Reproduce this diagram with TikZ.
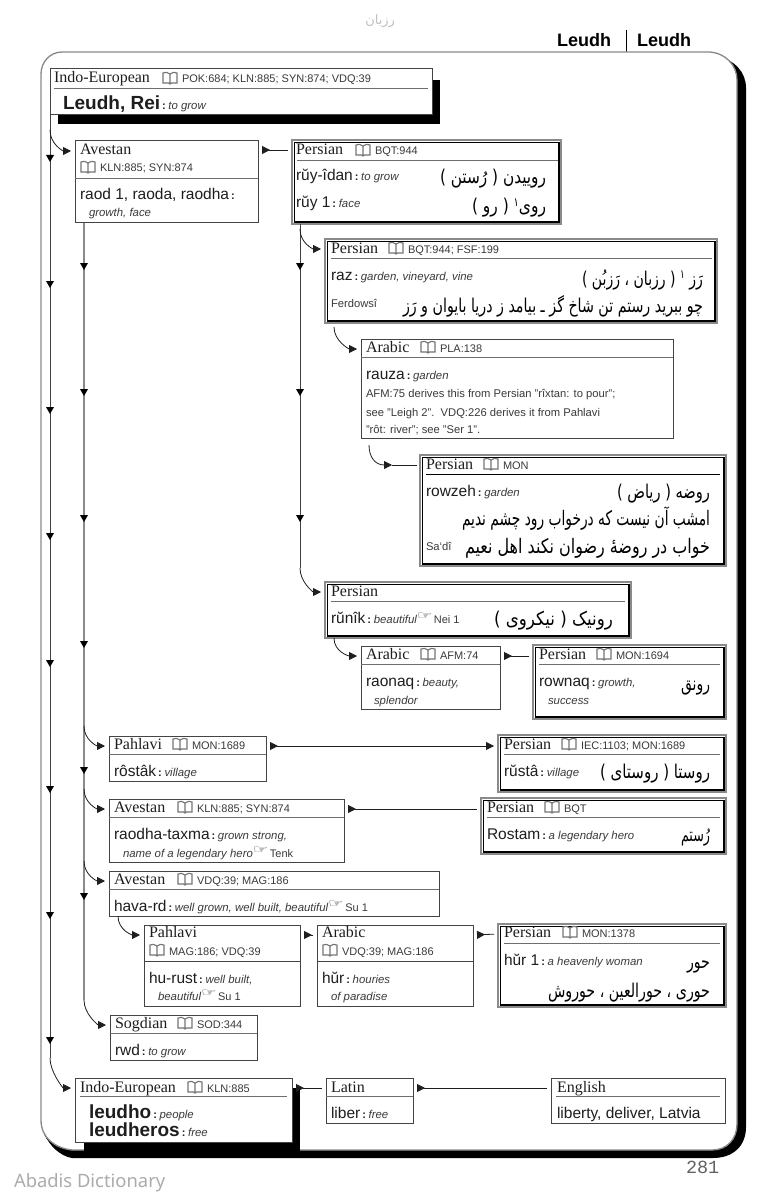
\documentclass[tikz,border=0pt]{standalone}
\usepackage{fontspec}
\setmainfont{Liberation Sans}
\newfontfamily\serf{Liberation Serif}
\newfontfamily\arf[Script=Arabic]{DejaVu Sans}
\newfontfamily\dvf{DejaVu Sans}
\newfontfamily\wmf{Noto Sans}
\newfontfamily\monof{Liberation Mono}
\usetikzlibrary{arrows.meta,calc}
\TeXXeTstate=1
\definecolor{ink}{HTML}{1E1E1E}
\definecolor{boxline}{HTML}{444444}
\definecolor{softline}{HTML}{8A8A8A}
\definecolor{reftext}{HTML}{3A3A3A}
\newcommand\px[1]{\fontsize{\the\dimexpr#1pt*3/4\relax}{\the\dimexpr#1pt*3/4\relax}\selectfont}
\newcounter{tn}
\newsavebox\arbox
\tikzset{
  txt/.style={inner sep=0pt,outer sep=0pt,anchor=base west,text=ink},
  artxt/.style={inner sep=0pt,outer sep=0pt,anchor=base east,text=black},
  plainbox/.style={draw=boxline,line width=.75pt,fill=white,inner sep=0pt,outer sep=0pt,anchor=north west},
  perbox/.style={draw=softline,line width=1pt,fill=white,inner sep=0pt,outer sep=0pt,anchor=north west},
  divline/.style={line width=.7pt,draw=softline!80!black},
  flow/.style={draw=ink,line width=.6pt,shorten >=3pt,-{Triangle[length=6pt,width=6pt]}},
  revflow/.style={draw=ink,line width=.6pt,shorten <=3pt,shorten >=3pt,{Triangle[reversed,length=6pt,width=6pt]}-},
  bothflow/.style={draw=ink,line width=.6pt,shorten <=3pt,shorten >=3pt,{Triangle[reversed,length=6pt,width=6pt]}-{Triangle[length=6pt,width=6pt]}},
  plainflow/.style={draw=ink,line width=.6pt,shorten >=2pt},
  trunk/.style={draw=ink!85,line width=.7pt},
  trunkb/.style={draw=softline,line width=1.1pt},
  bookicon/.pic={
    \draw[draw=softline!85!black,line width=.85pt,fill=white]
      (0,0) -- (0,-10) .. controls (2,-11) and (5,-11) .. (7,-9) .. controls (9,-11) and (12,-11) .. (14,-10) -- (14,0)
      -- (8.5,0) -- (7,1) -- (5.5,0) -- cycle (7,-9) -- (7,0);
  }
}
% box: style name x1 y1 x2 y2
\newcommand\bx[6]{%
  \node[#1,minimum width={(#5-#3)*0.75pt},minimum height={(#6-#4)*0.75pt}] (#2) at (#3,#4) {};
  \coordinate (#2-w) at (#3,#4+10);
  \coordinate (#2-e) at (#5,#4+10);
}
\newcommand\pbx[5]{%
  \bx{perbox}{#1}{#2}{#3}{#4}{#5}
  \draw[black,line width=.7pt] (#2+2.2,#3+2.2) rectangle (#4-2.2,#5-2.2);
  \draw[black,line width=1.5pt] (#4-2.2,#3+2) -- (#4-2.2,#5-2.2) -- (#2+2,#5-2.2);
}
\newcommand\dv[4][divline]{\draw[#1] (#3,#2) -- (#4,#2);}
\newcommand\tx[3]{\stepcounter{tn}\node[txt] (t\arabic{tn}) at (#1,#2) {#3};}
\newcommand\lang[3]{\tx{#1}{#2}{\serf\px{16}#3}}
\newcommand\refs[3]{\pic at (#1,#2) {bookicon}; \tx{#1+19}{#2}{\px{11}\color{reftext}#3}}
\newcommand\glo[1]{{\px{11.4}\itshape\color{reftext}#1}}
\newcommand\hw[2]{{\px{15.5}#1}\kern1.5pt{\px{11}\bfseries:}\kern2pt\glo{#2}}
\newcommand\hand{\raisebox{3pt}{\scalebox{1.25}[.8]{\dvf\px{14}\color{reftext}\symbol{"261E}}}}
% size, right x, baseline y, target width in px, text
\newcommand\ar[5]{\stepcounter{tn}\node[artxt] (t\arabic{tn}) at (#2,#3) {%
  \sbox\arbox{\arf\px{#1}#5}%
  \pgfmathsetmacro\arsx{#4*0.75/\the\wd\arbox}%
  \scalebox{\arsx}[1]{\usebox\arbox}};}
\newcommand\dn[2]{\fill[black] (#1-4,#2-7) -- (#1+4,#2-7) -- (#1,#2) -- cycle;}
\newcommand\branch[2]{\draw[flow] (#1) .. controls ($(#1)+(0,14)$) and ($(#2)+(-12,0)$) .. (#2);}
\begin{document}
\begin{tikzpicture}[x=.75pt,y=-.75pt,line join=miter]
\useasboundingbox (0,0) rectangle (760,1198);
% watermarks and running head
\node[artxt,text=black!25] (wmtop) at (395,25) {\arf\px{13}\beginR رزبان\endR};
\node[txt,text=black!33] (wmbot) at (14,1187) {\wmf\px{18.4}Abadis Dictionary};
\node[txt] (pg) at (686,1173) {\monof\px{18.5}\color{black!62}281};
\node[txt,text=black] (rhl) at (557,47) {\px{18}\bfseries Leudh};
\node[txt,text=black] (rhr) at (637,47) {\px{18}\bfseries Leudh};
\draw[black,line width=.7pt] (626,30) -- (626,52);
% page frame
\fill[black] (715,55) .. controls (735,60) and (746,72) .. (746,88) -- (746,1127)
  .. controls (746,1146) and (733,1158) .. (713,1158) -- (72,1158) .. controls (60,1156) and (50,1146) .. (44,1134)
  -- (60,1130) -- (700,1130) -- cycle;
\filldraw[fill=white,draw=softline,line width=1pt] (62,52) -- (710,52) .. controls (725,53) and (737,65) .. (737,80)
  -- (737,1124) .. controls (737,1139) and (727,1150) .. (712,1150) -- (72,1150) .. controls (55,1148) and (41,1138) .. (41,1120)
  -- (41,74) .. controls (41,62) and (50,52) .. (62,52) -- cycle;
% shadows
\fill[black] (58,80) rectangle (440,124);
\fill[black] (84,1088) rectangle (300,1158);
% boxes
\bx{plainbox}{iea}{50}{69}{432}{115}
\bx{plainbox}{ava}{75}{141}{258}{223}
\pbx{pea}{292}{140}{561}{224}
\pbx{peb}{325}{239}{717}{323}
\bx{plainbox}{ara}{361}{339}{673}{438}
\pbx{pec}{420}{455}{726}{566}
\pbx{ped}{325}{582}{631}{638}
\bx{plainbox}{arb}{361}{646}{500}{709}
\pbx{pee}{533}{645}{726}{719}
\pbx{pef}{498}{735}{726}{792}
\pbx{peg}{481}{798}{726}{854}
\bx{plainbox}{paa}{109}{736}{266}{781}
\bx{plainbox}{avb}{109}{799}{344}{862}
\bx{plainbox}{avc}{109}{871}{439}{916}
\bx{plainbox}{pab}{144}{925}{300}{1006}
\bx{plainbox}{arc}{317}{925}{473}{1006}
\pbx{peh}{498}{924}{726}{1007}
\bx{plainbox}{sog}{110}{1015}{257}{1060}
\bx{plainbox}{ieb}{75}{1078}{292}{1142}
\bx{plainbox}{lat}{326}{1078}{413}{1123}
\bx{plainbox}{eng}{551}{1078}{725}{1123}
% dividers
\dv{88}{54}{428}
\dv{178}{75}{258}
\dv{160}{297}{558}
\dv{258}{331}{712}
\dv{357}{361}{673}
\dv[black]{474}{426}{720}
\dv{601}{331}{625}
\dv{664}{361}{500}
\dv{664}{539}{720}
\dv{754}{504}{720}
\dv{817}{487}{720}
\dv{754}{109}{266}
\dv{817}{109}{344}
\dv{889}{109}{439}
\dv[draw=boxline,line width=.75pt]{961}{144}{300}
\dv[draw=boxline,line width=.75pt]{961}{317}{473}
\dv{943}{504}{720}
\dv{1033}{110}{257}
\dv{1096}{80}{287}
\dv{1096}{326}{413}
\dv{1096}{556}{720}
% trunks
\coordinate (taend) at (50,1058);
\coordinate (taav) at (50,130);
\coordinate (tb0) at (84,223);
\coordinate (tbend) at (84,1000);
\coordinate (tc0) at (300,224);
\coordinate (tcend) at (300,568);
\draw[trunk] (iea.south west) -- (taend);
\draw[trunkb] (tb0) -- (tbend);
\draw[trunk] (tc0) -- (tcend);
\branch{taav}{ava-w}
\branch{taend}{ieb-w}
\branch{tbend}{sog-w}
\coordinate (tcpeb) at (300,229);
\branch{tcpeb}{peb-w}
\branch{tcend}{ped-w}
\coordinate (tbpaa) at (84,726);
\coordinate (tbavb) at (84,789);
\coordinate (tbavc) at (84,861);
\branch{tbpaa}{paa-w}
\branch{tbavb}{avb-w}
\branch{tbavc}{avc-w}
\coordinate (pebout) at (334,327);
\branch{pebout}{ara-w}
\coordinate (pedout) at (334,638);
\branch{pedout}{arb-w}
\coordinate (avcout) at (118,916);
\branch{avcout}{pab-w}
% from Arabic to the third Persian box
\coordinate (arout) at (369,445);
\coordinate (arjoin) at (392,465);
\draw[flow,shorten >=0pt] (arout) .. controls (369,457) and (375,465) .. (arjoin);
\draw[plainflow] (arjoin) -- (pec-w);
% horizontal links
\draw[revflow] (ava-e |- pea-w) -- (pea-w);
\draw[revflow] (arb-e) -- (pee-w |- arb-e);
\draw[bothflow] (paa-e) -- (pef-w |- paa-e);
\draw[revflow] (avb-e) -- (peg-w |- avb-e);
\draw[revflow] (pab-e) -- (arc-w);
\draw[revflow] (arc-e) -- (peh-w);
\draw[revflow] (ieb-e) -- (lat-w);
\draw[revflow] (lat-e) -- (eng-w);
% arrowheads along the trunks
\foreach \yy in {162,288,414,540,667,793,919,1044} {\dn{50}{\yy}}
\foreach \yy in {270,396,522,648,774,900} {\dn{84}{\yy}}
\foreach \yy in {270,396,522} {\dn{300}{\yy}}
% Indo-European
\lang{54}{83}{Indo-European}\refs{163}{83}{POK:684; KLN:885; SYN:874; VDQ:39}
\tx{63}{110}{{\px{19}\bfseries Leudh, Rei}\kern1.5pt{\px{11}\bfseries:}\kern2pt\glo{to grow}}
% Avestan 1
\lang{80}{155}{Avestan}\refs{81}{172}{KLN:885; SYN:874}
\tx{80}{200}{\hw{raod 1, raoda, raodha}{}}
\tx{89}{217}{\glo{growth, face}}
% Persian 1
\lang{296}{155}{Persian}\refs{356}{155}{BQT:944}
\tx{296}{181}{\hw{rŭy-îdan}{to grow}}
\tx{296}{208}{\hw{rŭy 1}{face}}
\ar{19}{546}{184}{106}{\beginR روییدن ( رُستن )\endR}
\ar{19}{546}{213}{74}{\beginR روی\raisebox{5pt}{\px{12}۱} ( رو )\endR}
% Persian 2
\lang{331}{253}{Persian}\refs{389}{253}{BQT:944; FSF:199}
\tx{331}{280}{\hw{raz}{garden, vineyard, vine}}
\tx{331}{307}{\px{11.2}\color{reftext}Ferdowsî}
\ar{19}{703}{285}{121}{\beginR رَز \raisebox{5pt}{\px{12}۱} ( رزبان ، رَزبُن )\endR}
\ar{19}{703}{312}{300}{\beginR چو ببرید رستم تن شاخ گز ـ بیامد ز دریا بایوان و رَز\endR}
% Arabic 1
\lang{366}{352}{Arabic}\refs{421}{352}{PLA:138}
\tx{366}{379}{\hw{rauza}{garden}}
\tx{366}{397}{\px{11.2}\color{reftext}AFM:75 derives this from Persian "rîxtan: to pour";}
\tx{366}{416}{\px{11.2}\color{reftext}see "Leigh 2".\ \ VDQ:226 derives it from Pahlavi}
\tx{366}{433}{\px{11.2}\color{reftext}"rôt: river"; see "Ser 1".}
% Persian 3
\lang{426}{469}{Persian}\refs{484}{469}{MON}
\tx{426}{496}{\hw{rowzeh}{garden}}
\ar{19}{710}{498}{93}{\beginR روضه ( ریاض )\endR}
\ar{20}{710}{525}{248}{\beginR امشب آن نیست که درخواب رود چشم ندیم\endR}
\ar{20}{710}{553}{245}{\beginR خواب در روضهٔ رضوان نکند اهل نعیم\endR}
\tx{426}{550}{\px{11.2}\color{reftext}Sa`dî}
% Persian 4
\lang{331}{596}{Persian}
\tx{331}{623}{\hw{rŭnîk}{beautiful\hand}\kern1pt{\px{11}\color{reftext}Nei 1}}
\ar{19}{613}{625}{119}{\beginR رونیک ( نیکروی )\endR}
% Arabic 2 and Persian 5
\lang{366}{659}{Arabic}\refs{421}{659}{AFM:74}
\tx{366}{686}{\hw{raonaq}{beauty,}}
\tx{374}{704}{\glo{splendor}}
\lang{539}{659}{Persian}\refs{597}{659}{MON:1694}
\tx{539}{686}{\hw{rownaq}{growth,}}
\tx{548}{704}{\glo{success}}
\ar{19}{710}{690}{29}{\beginR رونق\endR}
% Persian 6, 7
\lang{504}{749}{Persian}\refs{562}{749}{IEC:1103; MON:1689}
\tx{504}{776}{\hw{rŭstâ}{village}}
\ar{19}{710}{778}{110}{\beginR روستا ( روستای )\endR}
\lang{487}{812}{Persian}\refs{545}{812}{BQT}
\tx{487}{839}{\hw{Rostam}{a legendary hero}}
\ar{19}{710}{841}{29}{\beginR رُستم\endR}
% Pahlavi 1, Avestan 2, 3
\lang{114}{749}{Pahlavi}\refs{173}{749}{MON:1689}
\tx{114}{776}{\hw{rôstâk}{village}}
\lang{114}{812}{Avestan}\refs{178}{812}{KLN:885; SYN:874}
\tx{114}{839}{\hw{raodha-taxma}{grown strong,}}
\tx{123}{857}{\glo{name of a legendary hero\hand}\kern1pt{\px{11}\color{reftext}Tenk}}
\lang{114}{884}{Avestan}\refs{178}{884}{VDQ:39; MAG:186}
\tx{114}{911}{\hw{hava-rd}{well grown, well built, beautiful\hand}\kern1pt{\px{11}\color{reftext}Su 1}}
% Pahlavi 2, Arabic 3, Persian 8
\lang{149}{937}{Pahlavi}\refs{150}{955}{MAG:186; VDQ:39}
\tx{149}{983}{\hw{hu-rust}{well built,}}
\tx{158}{1000}{\glo{beautiful\hand}\kern1pt{\px{11}\color{reftext}Su 1}}
\lang{322}{937}{Arabic}\refs{323}{955}{VDQ:39; MAG:186}
\tx{322}{983}{\hw{hŭr}{houries}}
\tx{331}{1000}{\glo{of paradise}}
\lang{504}{937}{Persian}\refs{563}{937}{MON:1378}
\tx{504}{965}{\hw{hŭr 1}{a heavenly woman}}
\ar{19}{710}{968}{23}{\beginR حور\endR}
\ar{19}{710}{997}{162}{\beginR حوری ، حورالعین ، حوروش\endR}
% Sogdian
\lang{115}{1028}{Sogdian}\refs{178}{1028}{SOD:344}
\tx{115}{1055}{\hw{rwd}{to grow}}
% Indo-European 2, Latin, English
\lang{80}{1092}{Indo-European}\refs{188}{1092}{KLN:885}
\tx{89}{1118}{{\px{19}\bfseries leudho}\kern1.5pt{\px{11}\bfseries:}\kern2pt\glo{people}}
\tx{89}{1136}{{\px{19}\bfseries leudheros}\kern1.5pt{\px{11}\bfseries:}\kern2pt\glo{free}}
\lang{331}{1092}{Latin}
\tx{331}{1118}{\hw{liber}{free}}
\lang{557}{1092}{English}
\tx{557}{1118}{\px{15.5}liberty, deliver, Latvia}
\end{tikzpicture}
\end{document}
